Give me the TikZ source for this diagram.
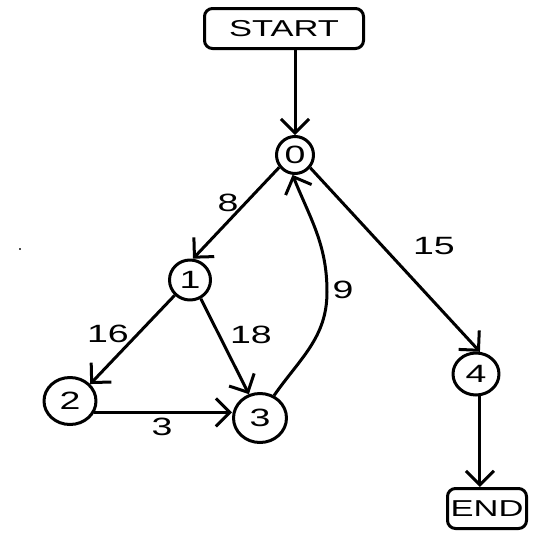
\documentclass[tikz,border=0pt]{standalone}
\usepackage{fontspec}
\setmainfont{Liberation Sans}[FakeStretch=1.5]
\usetikzlibrary{arrows.meta,shapes.geometric}
\begin{document}
\begin{tikzpicture}[x=1pt,y=-1pt,
  line width=3pt, line join=round,
  every node/.style={font=\fontsize{25}{30}\selectfont},
  state/.style={ellipse,draw,inner sep=0pt},
  term/.style={draw,rounded corners=8pt,inner sep=0pt,minimum height=40pt,
    font=\fontsize{23}{28}\selectfont},
  edge/.style={-{Straight Barb[length=14pt,width=28pt]}},
  weight/.style={inner sep=0pt}]
\useasboundingbox (0,0) rectangle (537,539);

% terminals
\node[term, minimum width=159pt] (start) at (284,28.5) {START};
\node[term, minimum width=79pt]  (end)   at (487,508.5) {END};

% states
\node[state, minimum width=37pt, minimum height=37pt] (n0) at (295,155) {0};
\node[state, minimum width=41pt, minimum height=40pt] (n1) at (190,280) {1};
\node[state, minimum width=52pt, minimum height=47pt] (n2) at (70,401) {2};
\node[state, minimum width=53pt, minimum height=49pt] (n3) at (260,418) {3};
\node[state, minimum width=46pt, minimum height=42pt] (n4) at (476,374) {4};

% transitions
\draw[edge] (n0.north |- start.south) -- (n0.north);
\draw[edge] (n0.218) -- (n1.82);
\draw[edge] (n0.-40) -- (n4.80);
\draw[edge] (n1.225) -- (n2.40);
\draw[edge] (n1.-60) -- (n3.115);
\draw[edge] (n2.-25) -- (n2.-25 -| n3.west);
\coordinate (bend) at (327,292);
\draw[edge] (n3.58) to[out=55,in=-90] (bend) to[out=90,in=-68] (n0.-97);
\draw[edge] (n4.-80) -- (n4.-80 |- end.north);

% weights
\node[weight] (w8)  at (228,203) {8};
\node[weight] (w15) at (434,246) {15};
\node[weight] (w16) at (108,334) {16};
\node[weight] (w18) at (251,335) {18};
\node[weight] (w3)  at (162,427) {3};
\node[weight] (w9)  at (343,290) {9};

% speck
\fill[black!70] (19,248) rectangle (21,250);
\end{tikzpicture}
\end{document}
